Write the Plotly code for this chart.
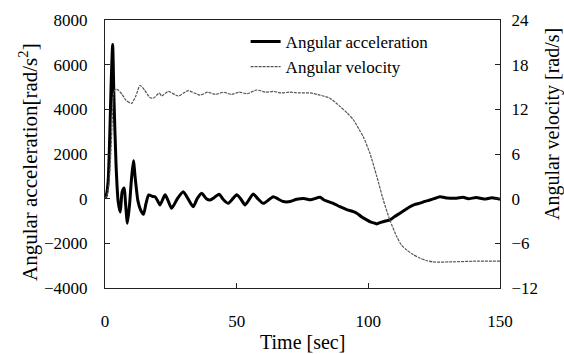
import plotly.graph_objects as go

# Angular acceleration [rad/s^2] vs time [sec]
acc_t = [0, 0.5, 1.2, 1.8, 2.3, 2.9, 3.4, 4.2, 5.0, 5.8, 6.5, 7.3, 7.8, 8.5, 9.3, 10.0,
         10.8, 11.5, 12.5, 13.5, 14.6, 15.6, 16.6, 18.0, 19.0, 20.0, 20.9, 22.8, 24.0,
         25.3, 27.5, 29.7, 31.5, 33.5, 35.0, 36.7, 38.5, 39.9, 41.5, 43.3, 45.0, 46.8,
         50.0, 51.5, 53.2, 56.3, 58.0, 60.1, 63.9, 65.5, 67.7, 70.3, 72.8, 76, 78, 81.7,
         83, 86.7, 89.2, 92, 94.3, 95.6, 97.5, 99.4, 101, 102.5, 103.2, 105, 106.5, 108.2,
         110, 112, 114.6, 115.8, 117.5, 119.6, 121.5, 123.4, 125, 127.2, 130, 133.5, 136,
         138, 141, 144, 147, 150]
acc_v = [0, 150, 800, 2800, 5000, 6900, 4500, 1500, -130, -600, 300, 480, -200, -1100,
         -300, 800, 1700, 900, -100, -500, -700, -200, 170, 100, 90, -100, -280, 170, -100,
         -430, 0, 310, 0, -360, 0, 240, 0, -60, 50, 200, -50, -210, 170, 0, -280, 210, 0,
         -210, 90, 0, -130, -130, -30, 0, -50, 60, -50, -210, -360, -500, -580, -650, -820,
         -950, -1050, -1100, -1130, -1050, -1000, -950, -800, -650, -450, -360, -270, -200,
         -120, -60, 0, 90, 30, 20, 60, 0, 50, -20, 40, -30]

# Angular velocity [rad/s] vs time [sec]
vel_t = [0, 0.8, 1.5, 2.2, 2.8, 3.3, 4.0, 5.0, 6.5, 8.0, 10.1, 11.7, 13.3, 15.0, 17.0,
         18.4, 20.6, 21.5, 24.0, 27.8, 31.6, 36.0, 39, 42, 45, 48, 51, 54, 57.6, 61, 64,
         67, 70, 74, 78, 81.7, 85.4, 89.2, 92, 94.3, 96.5, 98.1, 100.6, 103.2, 105.7,
         108.2, 110.8, 112.5, 114.6, 117, 119.6, 122, 124.7, 131, 140, 150]
vel_v = [0, 0.5, 2, 6, 11, 14.3, 14.7, 14.6, 14.0, 13.2, 12.8, 13.8, 15.2, 14.6, 13.6,
         13.5, 14.2, 13.8, 14.4, 13.8, 14.5, 13.9, 14.3, 14.0, 14.3, 14.0, 14.3, 14.1, 14.6,
         14.3, 14.4, 14.2, 14.3, 14.2, 14.2, 13.9, 13.5, 12.4, 11.5, 10.6, 9.3, 8.3, 6.1,
         3.0, -0.2, -2.9, -5.1, -6.2, -6.9, -7.5, -8.0, -8.3, -8.5, -8.5, -8.4, -8.4]

x_ticks = [0, 50, 100, 150]
y1_ticks = [-4000, -2000, 0, 2000, 4000, 6000, 8000]
y2_ticks = [-12, -6, 0, 6, 12, 18, 24]

FONT = "Liberation Serif, Times New Roman, serif"

fig = go.Figure()
fig.add_trace(go.Scatter(x=acc_t, y=acc_v, name="Angular acceleration", mode="lines",
                         line=dict(color="black", width=3, shape="spline", smoothing=0.6),
                         yaxis="y"))
fig.add_trace(go.Scatter(x=vel_t, y=vel_v, name="Angular velocity", mode="lines",
                         line=dict(color="#555555", width=1.2, dash="3px,1px",
                                   shape="spline", smoothing=0.6),
                         yaxis="y2"))

axis_common = dict(showgrid=False, zeroline=False, showline=True, linecolor="#222",
                   linewidth=1, ticks="inside", ticklen=5, tickcolor="#222",
                   tickfont=dict(family=FONT, size=17, color="black"))

fig.update_layout(
    width=564, height=354, autosize=False,
    margin=dict(l=105, r=64, t=20, b=66),
    paper_bgcolor="white", plot_bgcolor="white",
    font=dict(family=FONT, color="black"),
    xaxis=dict(range=[0, 150], tickvals=x_ticks, mirror=True,
               ticklabelstandoff=18, **axis_common),
    yaxis=dict(range=[-4000, 8000], tickvals=y1_ticks, ticklabelstandoff=13,
               **axis_common),
    yaxis2=dict(range=[-12, 24], tickvals=y2_ticks, overlaying="y", side="right",
                ticklabelstandoff=7, **axis_common),
    legend=dict(x=0.356, y=0.985, xanchor="left", yanchor="top",
                bgcolor="rgba(0,0,0,0)", font=dict(family=FONT, size=17, color="black"),
                tracegroupgap=0, itemwidth=30),
    showlegend=True,
    annotations=[
        dict(text="Time [sec]", xref="paper", yref="paper", x=0.5, y=-0.2,
             showarrow=False, font=dict(family=FONT, size=20, color="black"),
             xanchor="center", yanchor="middle"),
        dict(text="Angular acceleration[rad/s<sup>2</sup>]", xref="paper", yref="paper",
             x=-0.195, y=0.47, textangle=-90, showarrow=False,
             font=dict(family=FONT, size=21, color="black"),
             xanchor="center", yanchor="middle"),
        dict(text="Angular velocity [rad/s]", xref="paper", yref="paper",
             x=1.134, y=0.612, textangle=-90, showarrow=False,
             font=dict(family=FONT, size=20, color="black"),
             xanchor="center", yanchor="middle"),
    ],
)

fig.write_html("out.html")
